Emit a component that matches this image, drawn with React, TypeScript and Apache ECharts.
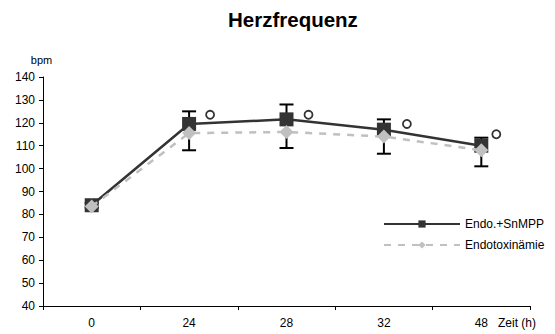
import React, { useEffect, useRef } from "react";
import * as echarts from "echarts";

const categories = ["0", "24", "28", "32", "48"];
const endoSnMPP = [84, 119.5, 121.5, 117, 110];
const endotox = [83.5, 115.5, 116, 114, 108];
const errLow = [83, 108, 109, 106.5, 101];
const errHigh = [85, 125, 128, 121.5, 113.5];
const sigValues = [null, 123.5, 123.5, 119.5, 115];
const sigOffsets = [0, 21, 22, 23, 15];

export default function App() {
  const ref = useRef<HTMLDivElement>(null);
  useEffect(() => {
    const chart = echarts.init(ref.current!, null, { renderer: "svg" });
    const font = "Liberation Sans, Arial, sans-serif";
    chart.setOption({
      animation: false,
      textStyle: { fontFamily: font },
      title: {
        text: "Herzfrequenz",
        left: 228,
        top: 9,
        padding: 0,
        textStyle: { fontSize: 20.5, fontWeight: "bold", color: "#000", fontFamily: font },
      },
      legend: {
        orient: "vertical",
        left: 383,
        top: 218,
        padding: 0,
        itemWidth: 76,
        itemHeight: 9,
        itemGap: 9,
        data: ["Endo.+SnMPP", "Endotoxinämie"],
        textStyle: { fontSize: 12, color: "#000", fontFamily: font },
      },
      grid: { left: 43, right: 25, top: 77, bottom: 28 },
      xAxis: {
        type: "category",
        data: categories,
        boundaryGap: true,
        name: "Zeit (h)",
        nameLocation: "end",
        nameGap: 0,
        nameTextStyle: { fontSize: 12, color: "#000", verticalAlign: "top", padding: [11, 0, 0, -32] },
        axisLine: { lineStyle: { color: "#000", width: 1 } },
        axisTick: { show: true, inside: false, length: 4, lineStyle: { color: "#000" } },
        axisLabel: { fontSize: 12, color: "#000", margin: 11 },
      },
      yAxis: {
        type: "value",
        min: 40,
        max: 140,
        interval: 10,
        name: "bpm",
        nameLocation: "end",
        nameGap: 12,
        nameTextStyle: { fontSize: 11, color: "#000", align: "center", padding: [0, 3, 0, 0] },
        splitLine: { show: false },
        axisLine: { show: true, lineStyle: { color: "#000", width: 1 } },
        axisTick: { show: true, length: 4, lineStyle: { color: "#000" } },
        axisLabel: { fontSize: 12, color: "#000", margin: 8 },
      },
      series: [
        {
          type: "custom",
          name: "err",
          z: 1,
          renderItem: (params: any, api: any) => {
            const x = api.value(0);
            const lo = api.coord([x, api.value(1)]);
            const hi = api.coord([x, api.value(2)]);
            const hw = 7;
            const style = { stroke: "#000", lineWidth: 2 };
            return {
              type: "group",
              children: [
                { type: "line", shape: { x1: lo[0], y1: lo[1], x2: hi[0], y2: hi[1] }, style },
                { type: "line", shape: { x1: lo[0] - hw, y1: lo[1], x2: lo[0] + hw, y2: lo[1] }, style },
                { type: "line", shape: { x1: hi[0] - hw, y1: hi[1], x2: hi[0] + hw, y2: hi[1] }, style },
              ],
            };
          },
          data: categories.map((c, i) => [i, errLow[i], errHigh[i]]),
        },
        {
          type: "line",
          name: "Endo.+SnMPP",
          z: 3,
          data: endoSnMPP,
          symbol: "rect",
          symbolSize: 14,
          showAllSymbol: true,
          lineStyle: { color: "#333333", width: 2.5 },
          itemStyle: { color: "#333333", borderWidth: 0 },
        },
        {
          type: "line",
          name: "Endotoxinämie",
          z: 4,
          data: endotox,
          symbol: "diamond",
          symbolSize: 14,
          showAllSymbol: true,
          lineStyle: { color: "#c0c0c0", width: 2.5, type: [7, 7] },
          itemStyle: { color: "#c0c0c0", borderWidth: 0 },
        },
        {
          type: "scatter",
          name: "sig",
          z: 5,
          symbol: "circle",
          symbolSize: 8,
          itemStyle: { color: "#fff", borderColor: "#000", borderWidth: 1.8 },
          data: sigValues.map((v, i) =>
            v === null ? null : { value: [i, v], symbolOffset: [sigOffsets[i], 0] }
          ),
        },
      ],
    });
    return () => chart.dispose();
  }, []);
  return <div ref={ref} style={{ width: 555, height: 334, position: "absolute", left: 0, top: 0 }} />;
}
